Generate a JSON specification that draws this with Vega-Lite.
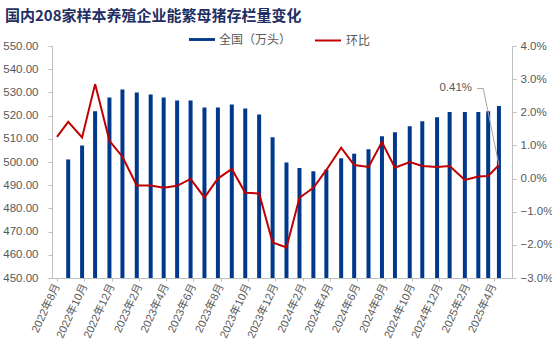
{
  "$schema": "https://vega.github.io/schema/vega-lite/v6.json",
  "width": 460,
  "height": 232,
  "autosize": {"type": "none"},
  "padding": {"left": 52, "top": 46, "right": 40, "bottom": 75},
  "background": "white",
  "title": {
    "text": "国内208家样本养殖企业能繁母猪存栏量变化",
    "anchor": "start",
    "frame": "group",
    "dx": -47,
    "dy": 1,
    "font": "Noto Sans CJK SC",
    "fontSize": 15,
    "fontWeight": "bold",
    "color": "#1F2F63"
  },
  "config": {
    "view": {"stroke": null},
    "axis": {
      "grid": false,
      "domainColor": "#BFBFBF",
      "tickColor": "#BFBFBF",
      "labelColor": "#595959",
      "labelFont": "Liberation Sans, Noto Sans CJK SC",
      "labelFontSize": 11.5,
      "tickSize": 4,
      "title": null
    },
    "legend": {
      "labelFont": "Noto Sans CJK SC",
      "labelFontSize": 12,
      "labelColor": "#595959",
      "padding": 0,
      "title": null
    }
  },
  "datasets": {
    "main": [
      {"date": "2022/08/01", "total": null, "v": 0.0126},
      {"date": "2022/08/26", "total": 501.1, "v": 0.0171},
      {"date": "2022/09/26", "total": 507.1, "v": 0.0124},
      {"date": "2022/10/25", "total": 521.9, "v": 0.0285},
      {"date": "2022/11/26", "total": 527.8, "v": 0.0114},
      {"date": "2022/12/25", "total": 531.3, "v": 0.0066},
      {"date": "2023/01/26", "total": 530.0, "v": -0.0021},
      {"date": "2023/02/26", "total": 529.1, "v": -0.0021},
      {"date": "2023/03/27", "total": 527.8, "v": -0.0028},
      {"date": "2023/04/26", "total": 526.5, "v": -0.0022},
      {"date": "2023/05/26", "total": 526.5, "v": -0.0001},
      {"date": "2023/06/26", "total": 523.5, "v": -0.0057},
      {"date": "2023/07/26", "total": 523.5, "v": 0.0},
      {"date": "2023/08/26", "total": 524.8, "v": 0.0029},
      {"date": "2023/09/25", "total": 523.1, "v": -0.0043},
      {"date": "2023/10/26", "total": 520.5, "v": -0.0045},
      {"date": "2023/11/25", "total": 510.7, "v": -0.0193},
      {"date": "2023/12/26", "total": 499.8, "v": -0.0208},
      {"date": "2024/01/24", "total": 497.4, "v": -0.0058},
      {"date": "2024/02/24", "total": 496.0, "v": -0.0028},
      {"date": "2024/03/24", "total": 496.7, "v": 0.0026},
      {"date": "2024/04/26", "total": 501.6, "v": 0.0093},
      {"date": "2024/05/25", "total": 503.6, "v": 0.0041},
      {"date": "2024/06/26", "total": 505.5, "v": 0.0035},
      {"date": "2024/07/26", "total": 511.1, "v": 0.0110},
      {"date": "2024/08/24", "total": 512.8, "v": 0.0033},
      {"date": "2024/09/26", "total": 515.4, "v": 0.0050},
      {"date": "2024/10/24", "total": 517.6, "v": 0.0038},
      {"date": "2024/11/26", "total": 519.3, "v": 0.0035},
      {"date": "2024/12/24", "total": 521.5, "v": 0.0038},
      {"date": "2025/01/27", "total": 521.5, "v": -0.0004},
      {"date": "2025/02/26", "total": 521.5, "v": 0.0006},
      {"date": "2025/03/20", "total": 521.9, "v": 0.0008},
      {"date": "2025/04/13", "total": 524.1, "v": 0.0041}
    ],
    "anno": [
      {"date": "2025/02/12", "v": 0.0272, "label": "0.41%"}
    ],
    "leader": [
      {"date": "2025/02/23", "v": 0.0272},
      {"date": "2025/03/09", "v": 0.0272},
      {"date": "2025/04/13", "v": 0.0041}
    ]
  },
  "encoding": {
    "x": {
      "field": "date",
      "type": "temporal",
      "scale": {
        "domain": [
          {"year": 2022, "month": 8, "date": 1},
          {"year": 2025, "month": 5, "date": 1}
        ]
      },
      "axis": {
        "values": [
          {"year": 2022, "month": 8, "date": 1},
          {"year": 2022, "month": 10, "date": 1},
          {"year": 2022, "month": 12, "date": 1},
          {"year": 2023, "month": 2, "date": 1},
          {"year": 2023, "month": 4, "date": 1},
          {"year": 2023, "month": 6, "date": 1},
          {"year": 2023, "month": 8, "date": 1},
          {"year": 2023, "month": 10, "date": 1},
          {"year": 2023, "month": 12, "date": 1},
          {"year": 2024, "month": 2, "date": 1},
          {"year": 2024, "month": 4, "date": 1},
          {"year": 2024, "month": 6, "date": 1},
          {"year": 2024, "month": 8, "date": 1},
          {"year": 2024, "month": 10, "date": 1},
          {"year": 2024, "month": 12, "date": 1},
          {"year": 2025, "month": 2, "date": 1},
          {"year": 2025, "month": 4, "date": 1}
        ],
        "format": "%Y年%-m月",
        "labelAngle": -65,
        "labelFontSize": 11,
        "labelPadding": 3,
        "labelOverlap": false,
        "tickSize": 3
      }
    }
  },
  "layer": [
    {
      "data": {"name": "main"},
      "mark": {"type": "bar", "width": 4},
      "encoding": {
        "y": {
          "field": "total",
          "type": "quantitative",
          "scale": {"domain": [450, 550], "zero": false, "nice": false},
          "axis": {"orient": "left", "tickCount": 10, "format": ".2f", "labelPadding": 10}
        },
        "y2": {"datum": 450},
        "color": {
          "datum": "全国（万头）",
          "scale": {"range": ["#00388C"]},
          "legend": {
            "orient": "none",
            "legendX": 137,
            "legendY": -19.5,
            "symbolType": "M-1,-0.11H1V0.11H-1Z",
            "symbolSize": 676,
            "symbolStrokeWidth": 0
          }
        }
      }
    },
    {
      "encoding": {
        "y": {
          "field": "v",
          "type": "quantitative",
          "scale": {"domain": [-0.03, 0.04], "zero": false, "nice": false},
          "axis": {"orient": "right", "tickCount": 7, "format": ".1%", "labelPadding": 4}
        }
      },
      "layer": [
        {
          "data": {"name": "main"},
          "mark": {"type": "line", "strokeWidth": 2},
          "encoding": {
            "stroke": {
              "datum": "环比",
              "scale": {"range": ["#C00000"]},
              "legend": {
                "orient": "none",
                "legendX": 262,
                "legendY": -19.5,
                "symbolType": "stroke",
                "symbolSize": 676,
                "symbolStrokeWidth": 2
              }
            }
          }
        },
        {
          "data": {"name": "leader"},
          "mark": {"type": "line", "strokeWidth": 1, "color": "#A6A6A6"},
          "encoding": {}
        },
        {
          "data": {"name": "anno"},
          "mark": {"type": "text", "align": "right", "baseline": "middle", "font": "Liberation Sans", "fontSize": 11.5, "color": "#595959"},
          "encoding": {"text": {"field": "label"}}
        }
      ]
    }
  ],
  "resolve": {"scale": {"y": "independent"}}
}
